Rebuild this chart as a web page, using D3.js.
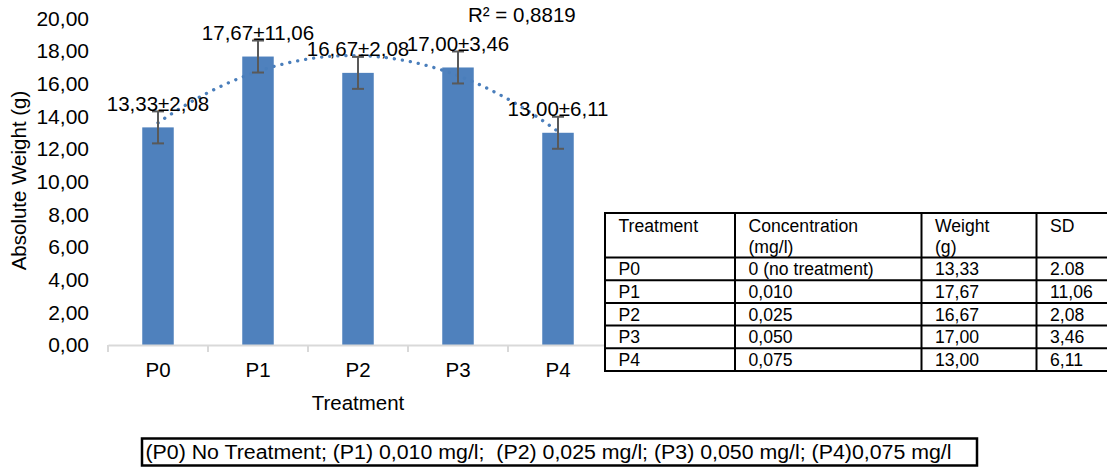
<!DOCTYPE html>
<html>
<head>
<meta charset="utf-8">
<script src="https://cdn.jsdelivr.net/npm/d3@7"></script>
<style>
  html, body { margin: 0; padding: 0; background: #ffffff; }
  svg { display: block; font-family: "Liberation Sans", Arial, sans-serif; }
  text { white-space: pre; }
</style>
</head>
<body>
<svg id="chart" width="1107" height="467"></svg>
<script>
// ---------- data ----------
const categories = ["P0", "P1", "P2", "P3", "P4"];
const weights = [13.33, 17.67, 16.67, 17.00, 13.00];
const sdValues = [2.08, 11.06, 2.08, 3.46, 6.11];
const errorBars = [0.98, 0.98, 0.98, 0.98, 0.98];
const yTicks = [0, 2, 4, 6, 8, 10, 12, 14, 16, 18, 20];
const r2Label = "R² = 0,8819";
const xTitle = "Treatment";
const yTitle = "Absolute Weight (g)";

const tableHeaders = [["Treatment"], ["Concentration", "(mg/l)"], ["Weight", "(g)"], ["SD"]];
const tableConcentration = ["0 (no treatment)", "0,010", "0,025", "0,050", "0,075"];
const tableWeight = ["13,33", "17,67", "16,67", "17,00", "13,00"];
const tableSD = ["2.08", "11,06", "2,08", "3,46", "6,11"];
const legendNote = "(P0) No Treatment; (P1) 0,010 mg/l;  (P2) 0,025 mg/l; (P3) 0,050 mg/l; (P4)0,075 mg/l";

// ---------- layout ----------
const svg = d3.select("#chart");
const plotLeft = 108, plotRight = 608, plotBottom = 345, plotTop = 18.5;
const barColor = "#4f81bd";
const comma = v => d3.format(".2f")(v).replace(".", ",");

const x = d3.scaleBand().domain(categories).range([plotLeft, plotRight]).paddingInner(0.685).paddingOuter(0.3425);
const xOuter = d3.scaleBand().domain(categories).range([plotLeft, plotRight]).padding(0);
const y = d3.scaleLinear().domain([0, 20]).range([plotBottom, plotTop]);

// y tick labels (no axis line)
const yAxis = d3.axisLeft(y).tickValues(yTicks).tickFormat(comma).tickSize(0).tickPadding(0);
const gy = svg.append("g").attr("transform", "translate(89,0)").call(yAxis);
gy.select(".domain").remove();
gy.selectAll("text").attr("font-size", 21).attr("font-family", "Liberation Sans, Arial, sans-serif").attr("fill", "#000");

// bars
svg.append("g").selectAll("rect").data(categories).join("rect")
  .attr("x", d => x(d))
  .attr("width", x.bandwidth())
  .attr("y", (d, i) => y(weights[i]))
  .attr("height", (d, i) => y(0) - y(weights[i]))
  .attr("fill", barColor);

// x axis
const xAxis = d3.axisBottom(xOuter).tickSize(0).tickPadding(0).tickFormat(() => "");
const gx = svg.append("g").attr("transform", `translate(0,${plotBottom})`).call(xAxis);
gx.select(".domain").attr("stroke", "#d9d9d9").attr("stroke-width", 2);
const boundaries = categories.map(c => xOuter(c)).concat([xOuter(categories[categories.length - 1]) + xOuter.bandwidth()]);
gx.selectAll(".bnd").data(boundaries).join("line").attr("class", "bnd")
  .attr("x1", d => d).attr("x2", d => d).attr("y1", 0).attr("y2", 7)
  .attr("stroke", "#d9d9d9").attr("stroke-width", 2);
svg.append("g").selectAll("text").data(categories).join("text")
  .attr("x", d => xOuter(d) + xOuter.bandwidth() / 2)
  .attr("y", 377)
  .attr("text-anchor", "middle")
  .attr("font-size", 20.5)
  .text(d => d);

// axis titles
svg.append("text").attr("x", (plotLeft + plotRight) / 2).attr("y", 410)
  .attr("text-anchor", "middle").attr("font-size", 20.5).text(xTitle);
svg.append("text").attr("transform", "translate(26,180.5) rotate(-90)")
  .attr("text-anchor", "middle").attr("font-size", 20.5).text(yTitle);

// polynomial (order 2) trendline fitted to the series
(function () {
  const xs = categories.map((d, i) => i + 1);
  const S = k => d3.sum(xs, v => Math.pow(v, k));
  const T = k => d3.sum(xs, (v, i) => Math.pow(v, k) * weights[i]);
  const A = [[S(0), S(1), S(2)], [S(1), S(2), S(3)], [S(2), S(3), S(4)]];
  const B = [T(0), T(1), T(2)];
  const M = A.map((r, i) => r.concat([B[i]]));
  for (let c = 0; c < 3; c++) {
    for (let r = c + 1; r < 3; r++) {
      const f = M[r][c] / M[c][c];
      for (let k = c; k < 4; k++) M[r][k] -= f * M[c][k];
    }
  }
  const coef = [0, 0, 0];
  for (let r = 2; r >= 0; r--) {
    let s = M[r][3];
    for (let k = r + 1; k < 3; k++) s -= M[r][k] * coef[k];
    coef[r] = s / M[r][r];
  }
  const f = t => coef[0] + coef[1] * t + coef[2] * t * t;
  const xc = t => xOuter(categories[0]) + xOuter.bandwidth() / 2 + (t - 1) * xOuter.step();
  const pts = d3.range(1, 5.0001, 0.02).map(t => [xc(t), y(f(t))]);
  svg.append("path").attr("d", d3.line()(pts))
    .attr("fill", "none").attr("stroke", "#4a7ebb").attr("stroke-width", 3.3)
    .attr("stroke-linecap", "round").attr("stroke-dasharray", "0.1 8");
})();

// error bars
const eb = svg.append("g").attr("stroke", "#595959").attr("stroke-width", 2);
categories.forEach((c, i) => {
  const cx = x(c) + x.bandwidth() / 2;
  const hi = y(weights[i] + errorBars[i]), lo = y(weights[i] - errorBars[i]);
  eb.append("line").attr("x1", cx).attr("x2", cx).attr("y1", hi).attr("y2", lo);
  eb.append("line").attr("x1", cx - 6).attr("x2", cx + 6).attr("y1", hi).attr("y2", hi);
  eb.append("line").attr("x1", cx - 6).attr("x2", cx + 6).attr("y1", lo).attr("y2", lo);
});

// data labels
svg.append("g").selectAll("text").data(categories).join("text")
  .attr("x", d => x(d) + x.bandwidth() / 2)
  .attr("y", (d, i) => y(weights[i]) - 16.5)
  .attr("text-anchor", "middle")
  .attr("font-size", 20.5)
  .text((d, i) => comma(weights[i]) + "±" + comma(sdValues[i]));

// R² label
svg.append("text").attr("x", 468).attr("y", 22).attr("font-size", 20.5).text(r2Label);

// ---------- table ----------
const colX = [605, 735, 921.5, 1036.5, 1125];
const rowY = [213, 257.5, 280.2, 302.9, 325.6, 348.3, 371];
const tbl = svg.append("g");
tbl.append("rect").attr("x", colX[0]).attr("y", rowY[0])
  .attr("width", colX[4] - colX[0]).attr("height", rowY[6] - rowY[0])
  .attr("fill", "#fff").attr("stroke", "#000").attr("stroke-width", 2);
tbl.selectAll(".vl").data(colX.slice(1, 4)).join("line").attr("class", "vl")
  .attr("x1", d => d).attr("x2", d => d).attr("y1", rowY[0]).attr("y2", rowY[6])
  .attr("stroke", "#000").attr("stroke-width", 2);
tbl.selectAll(".hl").data(rowY.slice(1, 6)).join("line").attr("class", "hl")
  .attr("x1", colX[0]).attr("x2", colX[4]).attr("y1", d => d).attr("y2", d => d)
  .attr("stroke", "#000").attr("stroke-width", 2);
tableHeaders.forEach((lines, ci) => {
  lines.forEach((t, li) => {
    tbl.append("text").attr("x", colX[ci] + 13.5).attr("y", 232 + li * 21)
      .attr("font-size", 17.6).text(t);
  });
});
const rows = categories.map((c, i) => [c, tableConcentration[i], tableWeight[i], tableSD[i]]);
rows.forEach((r, ri) => {
  r.forEach((t, ci) => {
    tbl.append("text").attr("x", colX[ci] + 13.5).attr("y", rowY[ri + 2] - 5)
      .attr("font-size", 17.6).text(t);
  });
});

// ---------- bottom note ----------
svg.append("rect").attr("x", 142).attr("y", 438.5).attr("width", 835).attr("height", 27)
  .attr("fill", "#fff").attr("stroke", "#000").attr("stroke-width", 2.5);
svg.append("text").attr("x", 145.5).attr("y", 459)
  .attr("font-family", "'Liberation Sans Narrow', 'Arial Narrow', 'Liberation Sans', sans-serif")
  .attr("font-size", 19.5)
  .attr("textLength", 806).attr("lengthAdjust", "spacingAndGlyphs")
  .text(legendNote);
</script>
</body>
</html>
